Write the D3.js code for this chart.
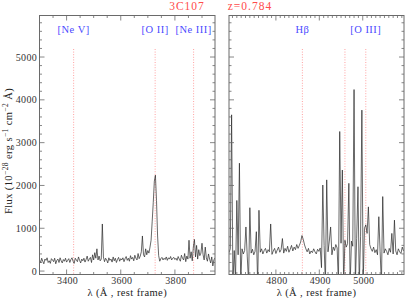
<!DOCTYPE html>
<meta charset="utf-8">
<style>
body { margin: 0; background: #fff; }
svg text { font-family: "Liberation Serif", "DejaVu Serif", serif; }
.tick-label { font-size: 10px; fill: #333; letter-spacing: 0.3px; }
.line-label { font-size: 10.5px; fill: #4a4aff; letter-spacing: 0.5px; }
.title { font-size: 11.5px; fill: #ff4b4b; letter-spacing: 1px; }
.ax-title { font-size: 10.5px; fill: #222; letter-spacing: 0.4px; }
</style>
<svg width="407" height="298"></svg>
<script src="https://cdn.jsdelivr.net/npm/d3@7"></script>
<script>

// spectrum, blue side: sampled every 4 A from 3300 A
var blueStart = 3300, blueStep = 4;
var blueFlux = [
  260,190,300,230,170,280,250,310,200,240,180,290,260,220,300,170,250,280,200,310,240,190,270,230,300,210,
  250,290,200,270,310,230,180,300,260,220,330,250,190,280,240,300,210,270,350,230,280,320,200,380,260,
  430,300,520,260,350,240,280,1100,330,220,300,260,190,310,250,280,210,330,240,300,200,270,320,230,290,
  260,310,220,290,340,250,300,230,360,280,320,240,370,300,260,410,290,350,450,820,380,330,520,380,480,
  420,560,720,1150,1600,2100,2240,1650,820,360,230,290,320,260,300,270,330,250,310,280,340,260,300,320,270,
  300,250,340,280,230,370,300,260,410,220,350,280,720,300,450,240,560,740,330,600,280,500,360,420,650,
  380,260,560,310,230,400,280,190,330,120,260,310
];

// spectrum, red side: sampled every 3 A from 4692 A
var redStart = 4692, redStep = 3;
var redFlux = [
  430,520,3650,-300,480,-200,1650,380,2520,-300,520,400,480,1030,350,-250,1480,420,510,380,
  460,920,-300,1420,440,520,400,480,530,420,500,450,1100,390,470,530,410,490,560,440,
  500,760,420,530,460,580,440,510,600,470,560,500,620,530,600,680,830,740,610,520,
  450,530,400,470,430,520,450,400,510,460,540,80,2010,600,-300,2130,450,700,1030,380,
  560,480,620,540,-300,3260,650,2360,-300,720,560,640,2050,-300,700,580,4240,-300,760,1970,
  -300,800,3760,-300,1000,1080,880,1500,620,520,460,560,430,500,380,1270,450,-300,1740,420,
  520,460,380,530,440,880,400,1190,470,380,520,450,410,560,470
];

var blueLines = [3426, 3727, 3869];
var blueLineNames = ["[Ne V]", "[O II]", "[Ne III]"];
var redLines = [4861, 4959, 5007];
var redLineNames = ["H\u03b2", "", "[O III]"];

var blueTicks = [3400, 3600, 3800];
var redTicks = [4800, 4900, 5000];
var yTicks = [0, 1000, 2000, 3000, 4000, 5000];

var svg = d3.select("svg");
var top_ = 15.5, bottom = 274.5;

var y = d3.scaleLinear().domain([-80, 5970]).range([bottom, top_]);

function panel(id, xDomain, xRange, wStart, wStep, flux, lines, names, majors, minorStep, showY) {
  var x = d3.scaleLinear().domain(xDomain).range(xRange);
  var g = svg.append("g");

  g.append("clipPath").attr("id", id)
    .append("rect").attr("x", xRange[0]).attr("y", top_)
    .attr("width", xRange[1] - xRange[0]).attr("height", bottom - top_);

  // emission line markers
  g.selectAll(".mark").data(lines).enter().append("line")
    .attr("x1", function(d) { return x(d); }).attr("x2", function(d) { return x(d); })
    .attr("y1", 49).attr("y2", bottom)
    .attr("stroke", "#ff8a8a").attr("stroke-width", 0.8)
    .attr("stroke-dasharray", "1,1.6");

  g.selectAll(".lbl").data(lines).enter().append("text")
    .attr("class", "line-label")
    .attr("x", function(d) { return x(d); }).attr("y", 32.5)
    .attr("text-anchor", "middle")
    .text(function(d, i) { return names[i]; });

  var pts = flux.map(function(v, i) { return [wStart + i * wStep, v]; });
  g.append("path").datum(pts)
    .attr("clip-path", "url(#" + id + ")")
    .attr("fill", "none").attr("stroke", "#262626").attr("stroke-width", 0.7)
    .attr("d", d3.line().x(function(d) { return x(d[0]); }).y(function(d) { return y(d[1]); }));

  // frame
  g.append("rect").attr("x", xRange[0]).attr("y", top_)
    .attr("width", xRange[1] - xRange[0]).attr("height", bottom - top_)
    .attr("fill", "none").attr("stroke", "#6a6a6a").attr("stroke-width", 1);

  var minors = d3.range(Math.ceil(xDomain[0] / minorStep) * minorStep, xDomain[1], minorStep);
  var tk = g.append("g").attr("stroke", "#6a6a6a").attr("stroke-width", 0.8);
  minors.forEach(function(w) {
    var len = majors.indexOf(w) >= 0 ? 5 : 2.5;
    tk.append("line").attr("x1", x(w)).attr("x2", x(w)).attr("y1", bottom).attr("y2", bottom - len);
    tk.append("line").attr("x1", x(w)).attr("x2", x(w)).attr("y1", top_).attr("y2", top_ + len);
  });
  d3.range(0, 6000, 200).forEach(function(v) {
    var len = v % 1000 === 0 ? 5 : 2.5;
    tk.append("line").attr("x1", xRange[0]).attr("x2", xRange[0] + len).attr("y1", y(v)).attr("y2", y(v));
    tk.append("line").attr("x1", xRange[1]).attr("x2", xRange[1] - len).attr("y1", y(v)).attr("y2", y(v));
  });

  g.selectAll(".xt").data(majors).enter().append("text")
    .attr("class", "tick-label")
    .attr("x", function(d) { return x(d) + 1; }).attr("y", 283.5)
    .attr("text-anchor", "middle").text(function(d) { return d; });

  if (showY) {
    g.selectAll(".yt").data(yTicks).enter().append("text")
      .attr("class", "tick-label")
      .attr("x", xRange[0] - 2.5).attr("y", function(d) { return y(d) + 3.5; })
      .attr("text-anchor", "end").text(function(d) { return d; });
  }

  g.append("text").attr("class", "ax-title")
    .attr("x", (xRange[0] + xRange[1]) / 2).attr("y", 296)
    .attr("text-anchor", "middle")
    .text("\u03bb (\u00c5 , rest frame)");
}

panel("clipL", [3300, 3948], [39.5, 215], blueStart, blueStep, blueFlux,
      blueLines, blueLineNames, blueTicks, 50, true);
panel("clipR", [4692, 5095], [229, 404], redStart, redStep, redFlux,
      redLines, redLineNames, redTicks, 10, false);

// y axis title
var yt = svg.append("text").attr("class", "ax-title")
  .attr("transform", "translate(11.5,151) rotate(-90)")
  .attr("text-anchor", "middle");
yt.append("tspan").text("Flux (10");
yt.append("tspan").attr("dy", -4).attr("font-size", "7.5px").text("\u221228");
yt.append("tspan").attr("dy", 4).text(" erg s");
yt.append("tspan").attr("dy", -4).attr("font-size", "7.5px").text("\u22121");
yt.append("tspan").attr("dy", 4).text(" cm");
yt.append("tspan").attr("dy", -4).attr("font-size", "7.5px").text("\u22122");
yt.append("tspan").attr("dy", 4).text(" \u00c5)");

svg.append("text").attr("class", "title")
  .attr("x", 187).attr("y", 9.5).attr("text-anchor", "middle").text("3C107");
svg.append("text").attr("class", "title")
  .attr("x", 250).attr("y", 9.5).attr("text-anchor", "middle").text("z=0.784");

</script>
